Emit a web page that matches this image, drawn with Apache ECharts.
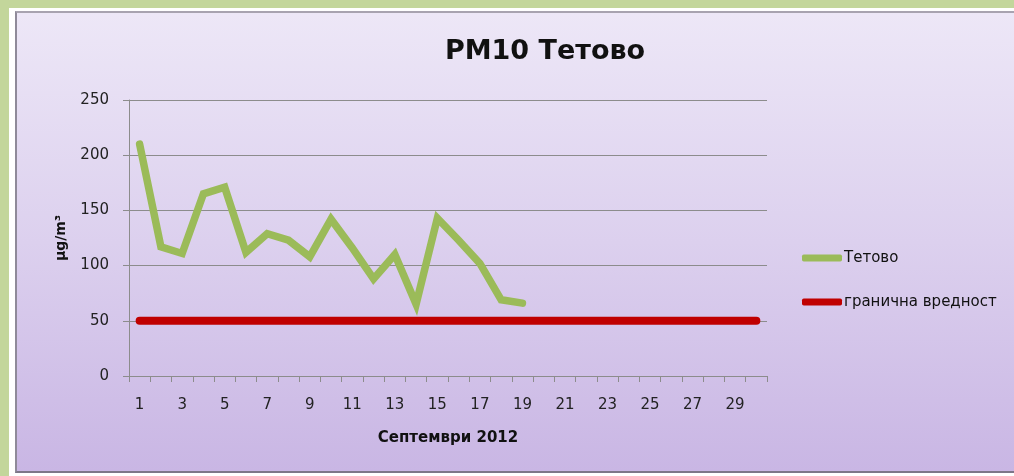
<!DOCTYPE html>
<html>
<head>
<meta charset="utf-8">
<script src="https://cdn.jsdelivr.net/npm/echarts@6/dist/echarts.min.js"></script>
<style>
html,body{margin:0;padding:0;width:1014px;height:476px;overflow:hidden;background:#c3d69b;}
#wrap{position:absolute;left:9px;top:8px;width:1005px;height:468px;background:#ffffff;}
#panel{position:absolute;left:15px;top:11px;width:1010px;height:462px;border-left:2px solid #8f8a99;border-top:2px solid #a8a3b0;border-bottom:2px solid #7d7688;
background:linear-gradient(to bottom,#ede7f7 0%,#dcd0ee 50%,#c9b6e4 100%);box-sizing:border-box;}
#chart{position:absolute;left:0;top:0;width:1014px;height:476px;}
</style>
</head>
<body>
<div id="wrap"></div>
<div id="panel"></div>
<div id="chart"></div>
<script>
const days = ['1','2','3','4','5','6','7','8','9','10','11','12','13','14','15','16','17','18','19','20','21','22','23','24','25','26','27','28','29','30'];
const tetovo = [210,117,111,165,171,112,129,123,108,142,116,88,110,65,143,123,102,69,66,null,null,null,null,null,null,null,null,null,null,null];
const limitValues = [50,50,50,50,50,50,50,50,50,50,50,50,50,50,50,50,50,50,50,50,50,50,50,50,50,50,50,50,50,50];
const yTicks = [0,50,100,150,200,250];

const font = 'DejaVu Sans';
const chart = echarts.init(document.getElementById('chart'), null, {renderer:'canvas'});
chart.setOption({
  backgroundColor: 'transparent',
  animation: false,
  title: {
    text: 'PM10 Тетово',
    left: 540, top: 33, textAlign: 'center',
    textStyle: {fontFamily: font, fontSize: 27, fontWeight: 'bold', color: '#111'}
  },
  legend: {
    orient: 'vertical', left: 797, top: 244,
    itemWidth: 40, itemHeight: 7, itemGap: 26,
    textStyle: {fontFamily: font, fontSize: 15, color: '#111', lineHeight: 18, padding: [0,0,0,-3]},
    data: [
      {name: 'Тетово', icon: 'roundRect'},
      {name: 'гранична вредност', icon: 'roundRect'}
    ]
  },
  grid: {left: 129, right: 247, top: 100, bottom: 100},
  xAxis: {
    type: 'category', data: days, boundaryGap: true,
    name: 'Септември 2012', nameLocation: 'middle', nameGap: 55,
    nameTextStyle: {fontFamily: font, fontSize: 15, fontWeight: 'bold', color: '#111'},
    axisLine: {lineStyle: {color: '#8c8c8c', width: 1}},
    axisTick: {show: true, interval: 0, length: 6, lineStyle: {color: '#8c8c8c'}},
    axisLabel: {interval: 1, margin: 22, fontFamily: font, fontSize: 15, color: '#222'},
    splitLine: {show: false}
  },
  yAxis: {
    type: 'value', min: yTicks[0], max: yTicks[yTicks.length-1], interval: 50,
    name: 'µg/m³', nameLocation: 'middle', nameGap: 61, nameRotate: 90,
    nameTextStyle: {fontFamily: font, fontSize: 14, fontWeight: 'bold', color: '#111'},
    axisLine: {show: true, lineStyle: {color: '#8c8c8c', width: 1}},
    axisTick: {show: true, length: 6, lineStyle: {color: '#8c8c8c'}},
    axisLabel: {margin: 20, fontFamily: font, fontSize: 15, color: '#222'},
    splitLine: {show: true, lineStyle: {color: '#8c8c8c', width: 1}}
  },
  series: [
    {
      name: 'Тетово', type: 'line', data: tetovo, symbol: 'none',
      color: '#9bbb59',
      lineStyle: {color: '#9bbb59', width: 7.5, cap: 'round', join: 'miter'},
      itemStyle: {color: '#9bbb59'}
    },
    {
      name: 'гранична вредност', type: 'line', data: limitValues, symbol: 'none',
      color: '#c00000',
      lineStyle: {color: '#c00000', width: 8, cap: 'round'},
      itemStyle: {color: '#c00000'}
    }
  ]
});
</script>
</body>
</html>
